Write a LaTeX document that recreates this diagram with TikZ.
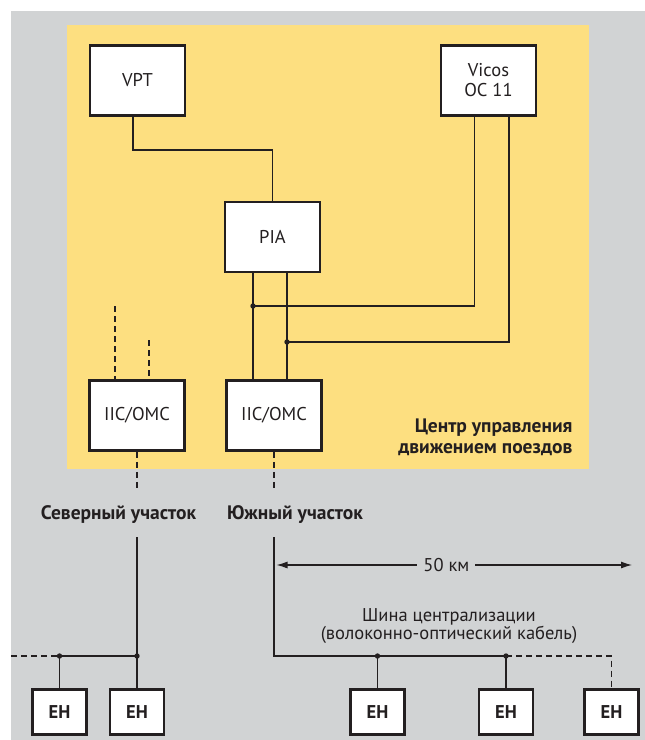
\documentclass[tikz,border=0pt]{standalone}
\usepackage{fontspec}
\setmainfont{PT Sans}
\usetikzlibrary{arrows.meta}
\definecolor{bggrey}{RGB}{209,211,212}
\definecolor{ctryellow}{RGB}{253,223,128}
\definecolor{linecol}{RGB}{35,31,32}

\begin{document}
\begin{tikzpicture}[x=1pt,y=-1pt,
  unit/.style={draw=linecol,line width=2.6pt,fill=white,text=linecol,minimum width=95pt,minimum height=70pt,inner sep=0pt,align=center,font=\fontsize{18.5}{20}\selectfont},
  eh/.style={draw=linecol,line width=2.6pt,fill=white,text=linecol,minimum width=54pt,minimum height=45pt,inner sep=0pt,font=\fontsize{18.5}{20}\selectfont\bfseries},
  wire/.style={draw=linecol,line width=1.1pt},
  dashwire/.style={wire,dash pattern=on 6pt off 4pt},
  lab/.style={text=linecol,font=\fontsize{19.5}{21}\selectfont\bfseries},
  txt/.style={text=linecol,font=\fontsize{18.5}{18.5}\selectfont}]
\useasboundingbox (0,0) rectangle (645,740);
\fill[bggrey] (11,11) rectangle (645,740);
\fill[ctryellow] (67,25) rectangle (589,469);

% control centre
\node[unit] (vpt) at (137.5,80.5) {VPT};
\node[unit] (vicos) at (488.5,80.5) {Vicos\\OC 11};
\node[unit] (pia) at (272.5,237) {PIA};
\node[unit] (iicN) at (137,415.5) {IIC/OMC};
\node[unit] (iicS) at (274,415.5) {IIC/OMC};
\node[lab,anchor=east,align=right] (ctr) at (576,437.5) {Центр управления\\движением поездов};

\coordinate (vbend) at (133,150);
\coordinate (jA) at (253,306);
\coordinate (jB) at (287,342);
\coordinate (nUpA) at (115,306);
\coordinate (nUpB) at (149,340);

\draw[wire] (vpt.south -| vbend) -- (vbend) -| (pia.north);
\draw[wire] (pia.south -| jA) -- (iicS.north -| jA);
\draw[wire] (pia.south -| jB) -- (iicS.north -| jB);
\draw[wire] (jA) -| ([xshift=-14pt]vicos.south);
\draw[wire] (jB) -| ([xshift=20.5pt]vicos.south);
\fill[linecol] (jA) circle (2.7pt) (jB) circle (2.7pt);
\draw[dashwire] (nUpA) -- (nUpA |- iicN.north);
\draw[dashwire] (nUpB) -- (nUpB |- iicN.north);

% sections
\node[lab] (north) at (118.5,515) {Северный участок};
\node[lab] (south) at (295,515) {Южный участок};
\coordinate (nDown) at (137,490);
\coordinate (sDown) at (274,490);
\coordinate (nTop) at (137,537);
\coordinate (sTop) at (274,537);
\draw[dashwire] (iicN.south) -- (nDown);
\draw[dashwire] (iicS.south) -- (sDown);

\foreach \n/\x in {1/59.5,2/137,3/377.5,4/506,5/611.5}
  \node[eh] (eh\n) at (\x,712) {EH};

\coordinate (busW) at (11,656);
\coordinate (tapA) at (59.5,656);
\coordinate (tapB) at (137,656);
\coordinate (sCorner) at (274,656);
\coordinate (tapC) at (377.5,656);
\coordinate (tapD) at (506,656);

% north bus
\draw[dashwire] (busW) -- (tapA);
\draw[wire] (tapA) -- (tapB);
\draw[wire] (nTop) -- (eh2.north);
\draw[wire] (tapA) -- (eh1.north);
\fill[linecol] (tapA) circle (2.7pt) (tapB) circle (2.7pt);

% south bus
\draw[wire] (sTop) -- (sCorner) -- (tapD);
\draw[wire] (tapC) -- (eh3.north);
\draw[wire] (tapD) -- (eh4.north);
\draw[dashwire] (tapD) -| (eh5.north);
\fill[linecol] (tapC) circle (2.7pt) (tapD) circle (2.7pt);

\coordinate (arrL) at (276.5,565);
\coordinate (arrR) at (632,565);
\draw[wire,{Latex[length=11pt,width=7pt]}-{Latex[length=11pt,width=7pt]}] (arrL) -- (arrR)
  node[txt,pos=0.478,fill=bggrey,inner xsep=6pt] (dist) {50 км};
\node[txt,align=center] (bus) at (449,626) {Шина централизации\\(волоконно-оптический кабель)};
\end{tikzpicture}
\end{document}
